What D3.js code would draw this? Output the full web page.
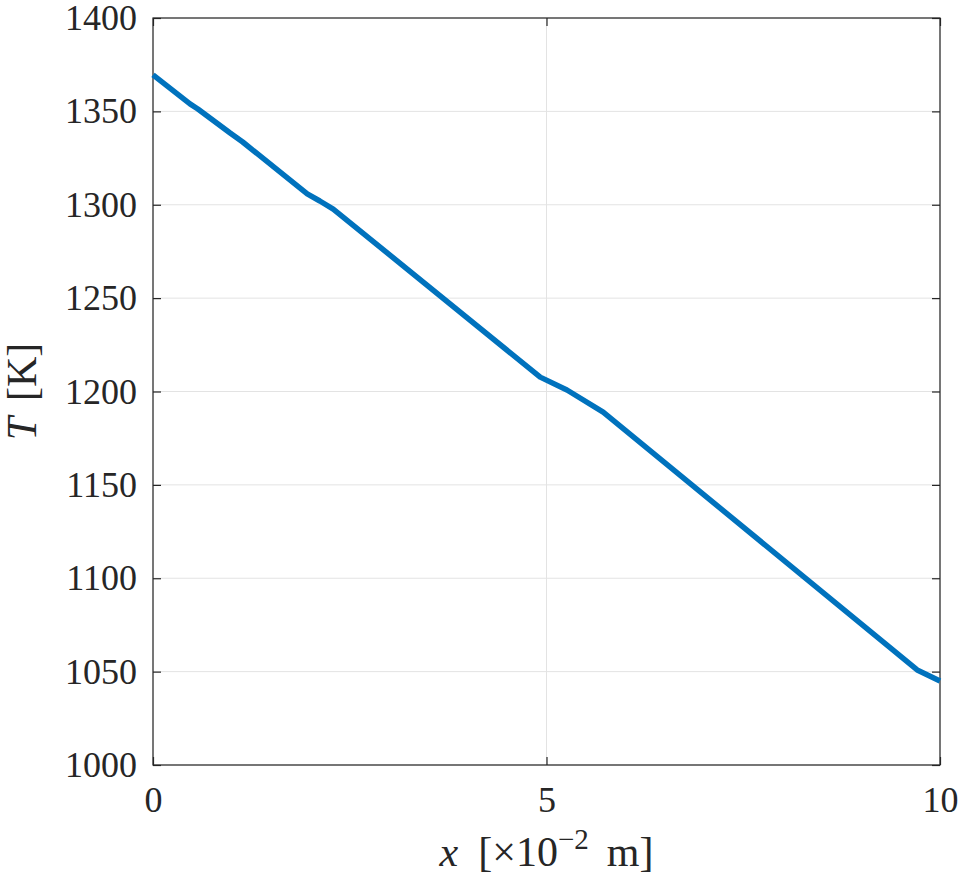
<!DOCTYPE html>
<html>
<head>
<meta charset="utf-8">
<script src="https://cdn.jsdelivr.net/npm/d3@7"></script>
<style>
  body { margin: 0; background: #fff; }
</style>
</head>
<body>
<div id="chart-area"></div>
<script>
// Data
var xValues = [0, 0.47, 0.57, 0.98, 1.14, 1.96, 2.12, 2.29, 4.92, 5.26, 5.72, 9.71, 10];
var tValues = [1369.5, 1354, 1351.3, 1338.4, 1333.6, 1305.8, 1302, 1297.7, 1207.7, 1200.8, 1189, 1050.9, 1045];
var xTicks = [0, 5, 10];
var yTicks = [1000, 1050, 1100, 1150, 1200, 1250, 1300, 1350, 1400];

var fontFam = "'Liberation Serif', 'Times New Roman', serif";
var ink = "#262626";

var margin = { left: 153, right: 23, top: 18, bottom: 119 },
    width = 963 - margin.left - margin.right,
    height = 884 - margin.top - margin.bottom;

var svg = d3.select("#chart-area").append("svg")
    .attr("width", 963)
    .attr("height", 884);

var g = svg.append("g")
    .attr("transform", "translate(" + margin.left + ", " + margin.top + ")");

var x = d3.scaleLinear().domain([0, 10]).range([0, width]);
var y = d3.scaleLinear().domain([1000, 1400]).range([height, 0]);

// Grid lines
g.append("g").selectAll("line")
    .data(xTicks)
    .enter().append("line")
    .attr("x1", (d) => x(d)).attr("x2", (d) => x(d))
    .attr("y1", 0).attr("y2", height)
    .attr("stroke", "#e3e3e3").attr("stroke-width", 1);
g.append("g").selectAll("line")
    .data(yTicks)
    .enter().append("line")
    .attr("x1", 0).attr("x2", width)
    .attr("y1", (d) => y(d)).attr("y2", (d) => y(d))
    .attr("stroke", "#e3e3e3").attr("stroke-width", 1);

// Axes (inward ticks, MATLAB box style)
var tl = 8;
function styleAxis(sel) {
    sel.attr("font-family", fontFam).attr("font-size", 36);
    sel.select(".domain").remove();
    sel.selectAll(".tick line").attr("stroke", ink).attr("stroke-width", 1.2);
    sel.selectAll(".tick text").attr("fill", ink);
}
var fmt = d3.format("d");
g.append("g")
    .attr("transform", "translate(0," + height + ")")
    .call(d3.axisBottom(x).tickValues(xTicks).tickFormat(fmt).tickSizeInner(-tl).tickSizeOuter(0).tickPadding(21))
    .call(styleAxis);
g.append("g")
    .call(d3.axisTop(x).tickValues(xTicks).tickSizeInner(-tl).tickSizeOuter(0).tickFormat(""))
    .call(styleAxis);
g.append("g")
    .call(d3.axisLeft(y).tickValues(yTicks).tickFormat(fmt).tickSizeInner(-tl).tickSizeOuter(0).tickPadding(16))
    .call(styleAxis);
g.append("g")
    .attr("transform", "translate(" + width + ",0)")
    .call(d3.axisRight(y).tickValues(yTicks).tickSizeInner(-tl).tickSizeOuter(0).tickFormat(""))
    .call(styleAxis);

// Box
g.append("rect")
    .attr("width", width).attr("height", height)
    .attr("fill", "none").attr("stroke", ink).attr("stroke-width", 1.2);

// Line
var line = d3.line()
    .x((d, i) => x(xValues[i]))
    .y((d, i) => y(tValues[i]));
g.append("path")
    .datum(tValues)
    .attr("fill", "none")
    .attr("stroke", "#0072BD")
    .attr("stroke-width", 5.5)
    .attr("stroke-linejoin", "round")
    .attr("d", line);

// Axis titles
var xt = svg.append("text")
    .attr("x", margin.left + width / 2)
    .attr("y", 866)
    .attr("text-anchor", "middle")
    .attr("font-family", fontFam)
    .attr("font-size", 42)
    .attr("fill", ink);
xt.append("tspan").attr("font-style", "italic").text("x");
xt.append("tspan").attr("dx", 20).text("[\u00d710");
xt.append("tspan").attr("dy", -17).attr("font-size", 29).text("\u22122");
xt.append("tspan").attr("dy", 17).attr("dx", 18).text("m]");

var yt = svg.append("text")
    .attr("transform", "translate(36," + (margin.top + height / 2) + ") rotate(-90)")
    .attr("text-anchor", "middle")
    .attr("font-family", fontFam)
    .attr("font-size", 42)
    .attr("fill", ink);
yt.append("tspan").attr("font-style", "italic").text("T");
yt.append("tspan").attr("dx", 16).text("[K]");
</script>
</body>
</html>
